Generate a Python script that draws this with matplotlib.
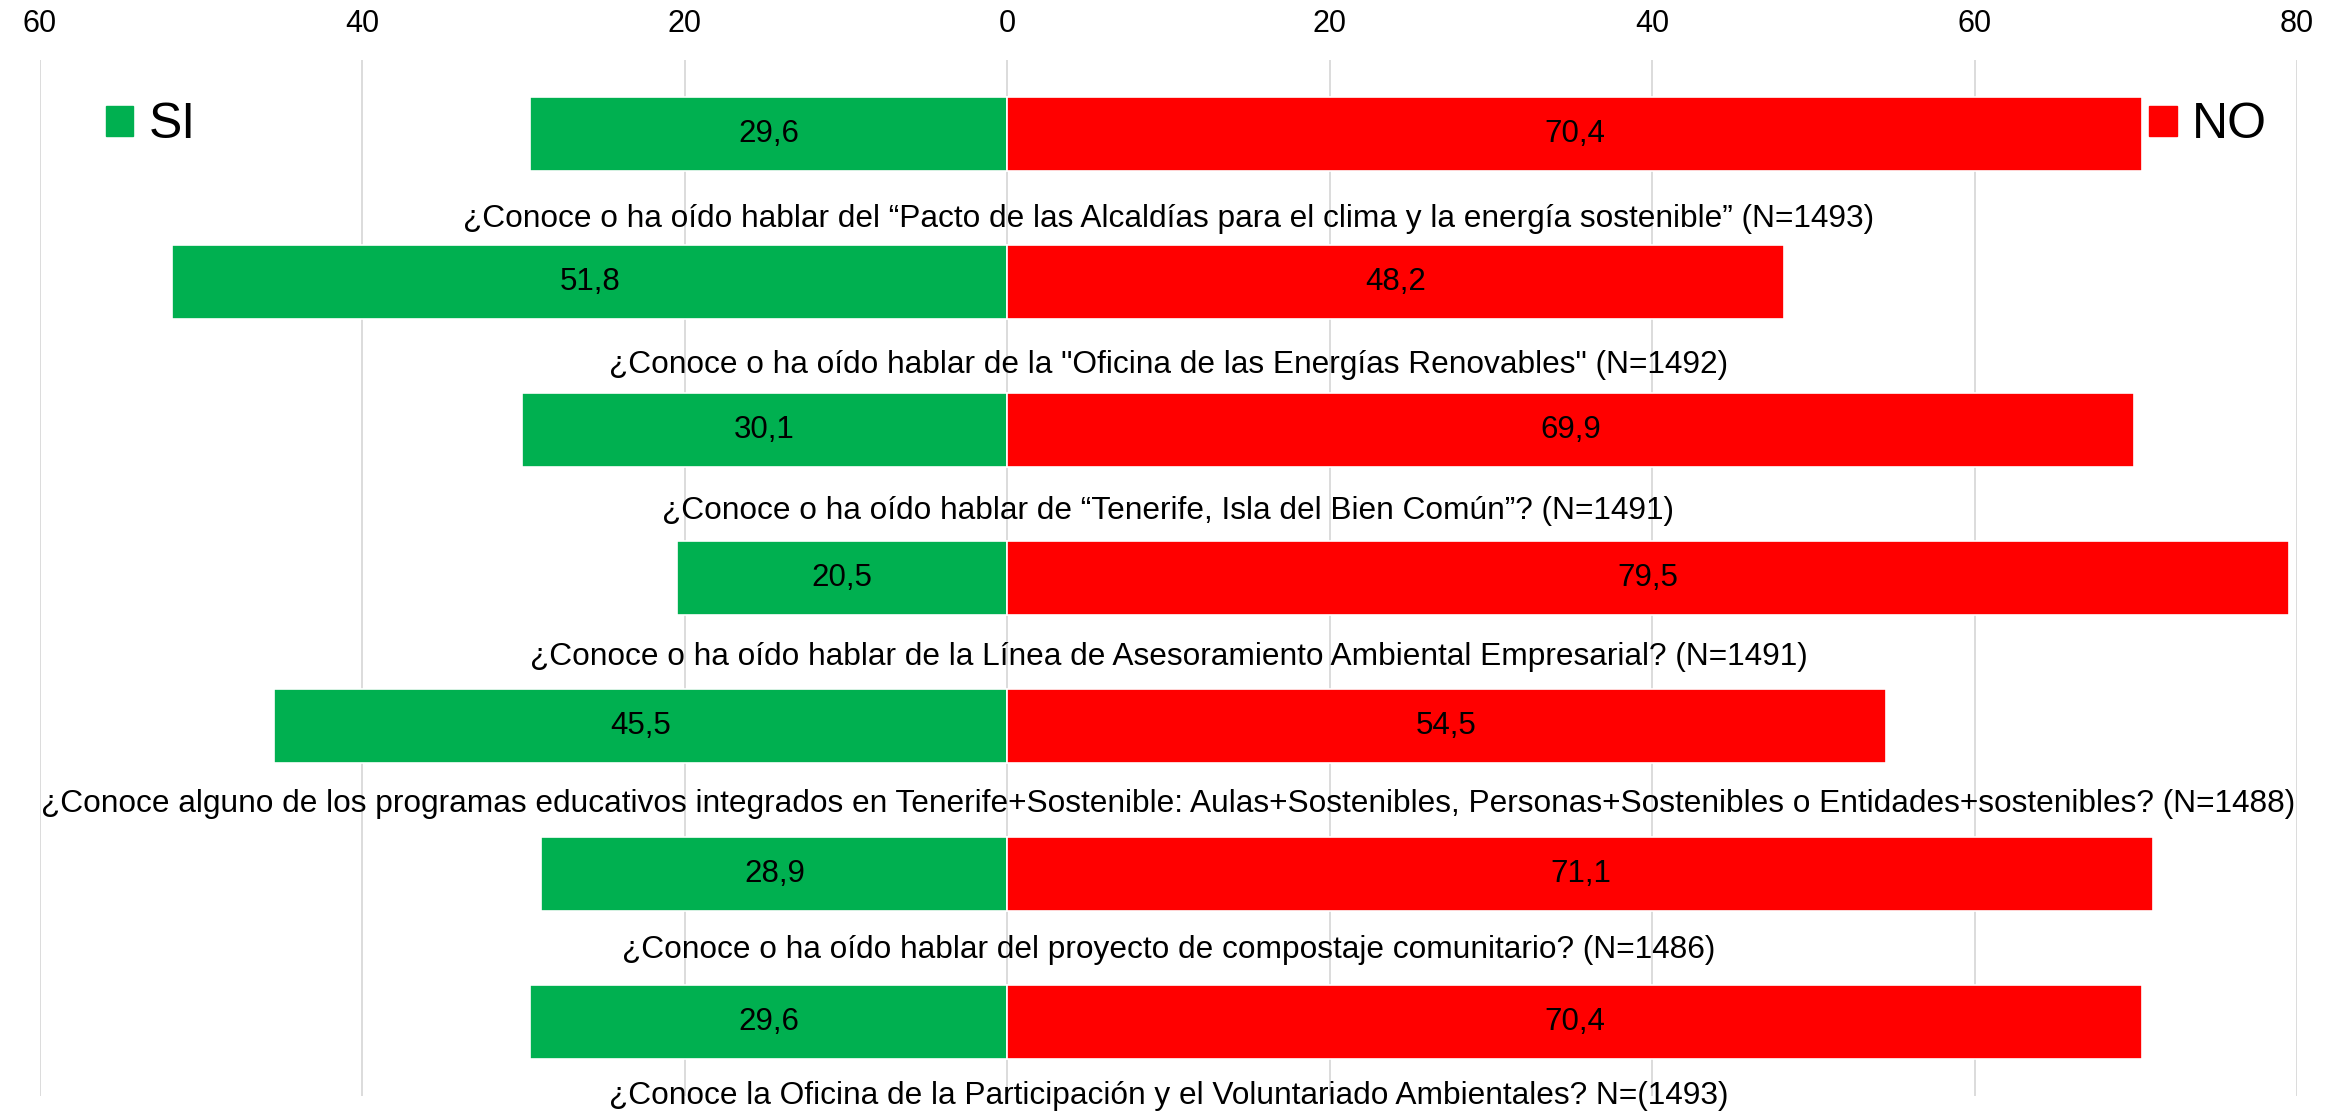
import numpy as np
import matplotlib
matplotlib.use("Agg")
import matplotlib.pyplot as plt
import matplotlib.transforms as mtransforms
from matplotlib.patches import Patch

plt.rcParams['font.family'] = ['Liberation Sans', 'DejaVu Sans']

# data
preguntas = [
    '¿Conoce o ha oído hablar del “Pacto de las Alcaldías para el clima y la energía sostenible” (N=1493)',
    '¿Conoce o ha oído hablar de la "Oficina de las Energías Renovables" (N=1492)',
    '¿Conoce o ha oído hablar de “Tenerife, Isla del Bien Común”? (N=1491)',
    '¿Conoce o ha oído hablar de la Línea de Asesoramiento Ambiental Empresarial? (N=1491)',
    '¿Conoce alguno de los programas educativos integrados en Tenerife+Sostenible: Aulas+Sostenibles, Personas+Sostenibles o Entidades+sostenibles? (N=1488)',
    '¿Conoce o ha oído hablar del proyecto de compostaje comunitario? (N=1486)',
    '¿Conoce la Oficina de la Participación y el Voluntariado Ambientales? N=(1493)',
]
si = [29.6, 51.8, 30.1, 20.5, 45.5, 28.9, 29.6]
no = [70.4, 48.2, 69.9, 79.5, 54.5, 71.1, 70.4]
ticks = [-60, -40, -20, 0, 20, 40, 60, 80]

verde = '#00B050'
rojo = '#FF0000'

fig = plt.figure(figsize=(23.41, 11.13), dpi=100)
ax = fig.add_axes([0.01709, 0.01527, 0.9641, 0.9308])

y = np.arange(len(preguntas))
ax.barh(y, -np.array(si), height=0.5, color=verde, edgecolor='white', linewidth=1.2, zorder=3)
ax.barh(y, no, height=0.5, color=rojo, edgecolor='white', linewidth=1.2, zorder=3)

for i in range(len(y)):
    ax.text(-si[i] / 2, y[i], f'{si[i]:.1f}'.replace('.', ','), ha='center', va='center',
            fontsize=22.5, zorder=4)
    ax.text(no[i] / 2, y[i], f'{no[i]:.1f}'.replace('.', ','), ha='center', va='center',
            fontsize=22.5, zorder=4)

# preguntas debajo de cada barra, centradas en el area del grafico
trans = mtransforms.blended_transform_factory(ax.transAxes, ax.transData)
for i, q in enumerate(preguntas):
    ax.text(0.5, y[i] + 0.63 - 0.013 * i, q, transform=trans, ha='center', va='baseline',
            fontsize=22.8, clip_on=False)

ax.set_xlim(-60, 80)
ax.set_ylim(6.5, -0.5)
ax.set_xticks(ticks)
ax.set_xticklabels([str(abs(t)) for t in ticks])
ax.xaxis.tick_top()
ax.tick_params(axis='x', length=0, pad=15, labelsize=22)
ax.set_yticks([])
ax.grid(axis='x', color='#D9D9D9', linewidth=1.3, zorder=0)
ax.set_axisbelow(True)
for s in ax.spines.values():
    s.set_visible(False)

leg1 = ax.legend(handles=[Patch(color=verde)], labels=['SI'], loc='center',
                 bbox_to_anchor=(0.049, 0.937), frameon=False, fontsize=36,
                 handlelength=0.55, handleheight=0.55, handletextpad=0.3, borderpad=0)
ax.add_artist(leg1)
ax.legend(handles=[Patch(color=rojo)], labels=['NO'], loc='center',
          bbox_to_anchor=(0.9606, 0.937), frameon=False, fontsize=36,
          handlelength=0.55, handleheight=0.55, handletextpad=0.3, borderpad=0)

fig.savefig('out.png', dpi=100)
